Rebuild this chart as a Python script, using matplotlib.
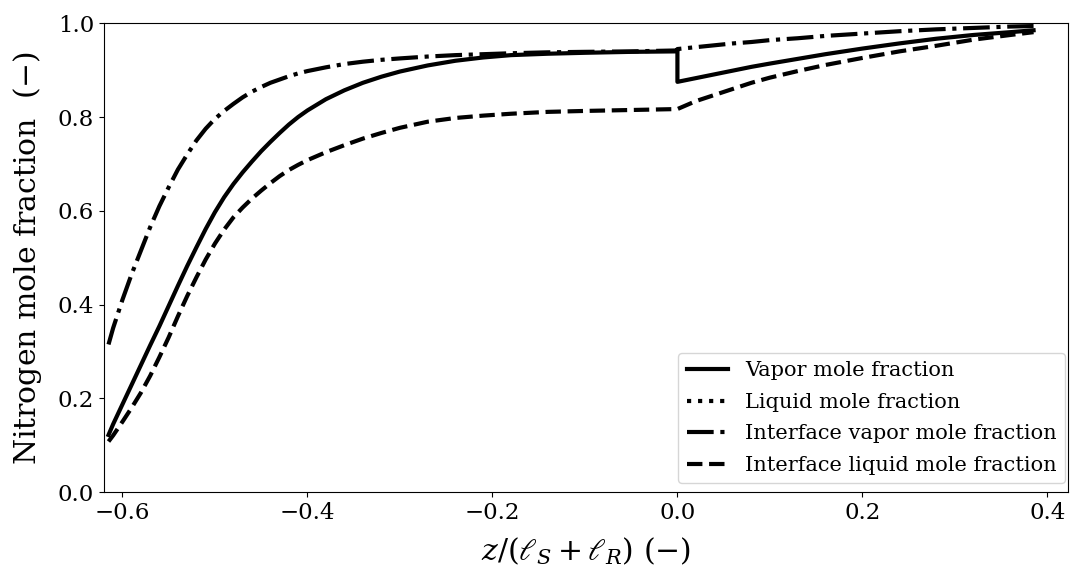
import numpy as np
import matplotlib
matplotlib.use("Agg")
import matplotlib.pyplot as plt

plt.rcParams['font.family'] = 'DejaVu Serif'
plt.rcParams['mathtext.fontset'] = 'dejavuserif'

# axial position, split at the junction z = 0
z_left = [-0.615, -0.61, -0.60, -0.59, -0.58, -0.57, -0.56, -0.55, -0.54, -0.53, -0.52,
          -0.51, -0.50, -0.49, -0.48, -0.47, -0.46, -0.45, -0.44, -0.43, -0.42, -0.41,
          -0.40, -0.38, -0.36, -0.34, -0.32, -0.30, -0.27, -0.24, -0.21, -0.18, -0.14,
          -0.10, -0.05, 0.0]
z_right = [0.0, 0.02, 0.04, 0.06, 0.08, 0.10, 0.13, 0.16, 0.20, 0.24, 0.28, 0.32, 0.36, 0.385]

# vapor mole fraction (drops at z = 0)
vap_left = [0.122, 0.145, 0.187, 0.229, 0.271, 0.313, 0.354, 0.397, 0.440, 0.482, 0.522,
            0.561, 0.597, 0.629, 0.657, 0.682, 0.705, 0.727, 0.747, 0.766, 0.784, 0.800,
            0.814, 0.838, 0.857, 0.873, 0.886, 0.897, 0.910, 0.920, 0.927, 0.932, 0.935,
            0.937, 0.939, 0.940]
vap_right = [0.875, 0.883, 0.891, 0.899, 0.907, 0.914, 0.924, 0.934, 0.946, 0.957, 0.967,
             0.975, 0.981, 0.985]

# liquid mole fraction (not visible in the plotted window)
liq = []

# interface vapor mole fraction
ivap_left = [0.315, 0.35, 0.41, 0.465, 0.515, 0.565, 0.61, 0.65, 0.688, 0.72, 0.75,
             0.775, 0.796, 0.813, 0.828, 0.842, 0.854, 0.864, 0.873, 0.880, 0.887, 0.893,
             0.898, 0.906, 0.913, 0.918, 0.922, 0.925, 0.929, 0.932, 0.934, 0.936, 0.938,
             0.939, 0.940, 0.942]
ivap_right = [0.945, 0.949, 0.953, 0.957, 0.960, 0.964, 0.968, 0.973, 0.978, 0.983, 0.987,
              0.990, 0.993, 0.994]

# interface liquid mole fraction
iliq_left = [0.108, 0.121, 0.150, 0.180, 0.212, 0.248, 0.288, 0.330, 0.375, 0.418, 0.458,
             0.496, 0.530, 0.560, 0.586, 0.607, 0.626, 0.643, 0.659, 0.674, 0.687, 0.698,
             0.708, 0.725, 0.740, 0.754, 0.766, 0.777, 0.790, 0.798, 0.803, 0.807, 0.811,
             0.813, 0.815, 0.817]
iliq_right = [0.817, 0.834, 0.847, 0.860, 0.873, 0.884, 0.898, 0.911, 0.926, 0.940, 0.952,
              0.965, 0.975, 0.981]

z = np.array(z_left + z_right)
vap = np.array(vap_left + vap_right)
ivap = np.array(ivap_left + ivap_right)
iliq = np.array(iliq_left + iliq_right)

fig = plt.figure(figsize=(10.71, 5.67), dpi=100)
ax = fig.add_axes([0.097, 0.132, 0.9, 0.827])

lw = 3
ax.plot(z, vap, 'k-', lw=lw, label='Vapor mole fraction')
ax.plot(liq, liq, 'k:', lw=lw, label='Liquid mole fraction')
ax.plot(z, ivap, 'k-.', lw=lw, label='Interface vapor mole fraction')
ax.plot(z, iliq, 'k--', lw=lw, label='Interface liquid mole fraction')

ax.set_xlim(-0.62, 0.422)
ax.set_ylim(0, 1)
ax.set_xticks([-0.6, -0.4, -0.2, 0.0, 0.2, 0.4])
ax.set_yticks([0.0, 0.2, 0.4, 0.6, 0.8, 1.0])
ax.tick_params(labelsize=16.5)
ax.set_xlabel(r'$z/(\ell_S+\ell_R)$ $(-)$', fontsize=21.5, labelpad=8)
ax.set_ylabel(r'Nitrogen mole fraction  $(-)$', fontsize=21.5, labelpad=10)
ax.legend(loc='lower right', bbox_to_anchor=(0.997, 0.019), borderaxespad=0,
          fontsize=15, labelspacing=0.6)

fig.savefig('out.png', dpi=100)
